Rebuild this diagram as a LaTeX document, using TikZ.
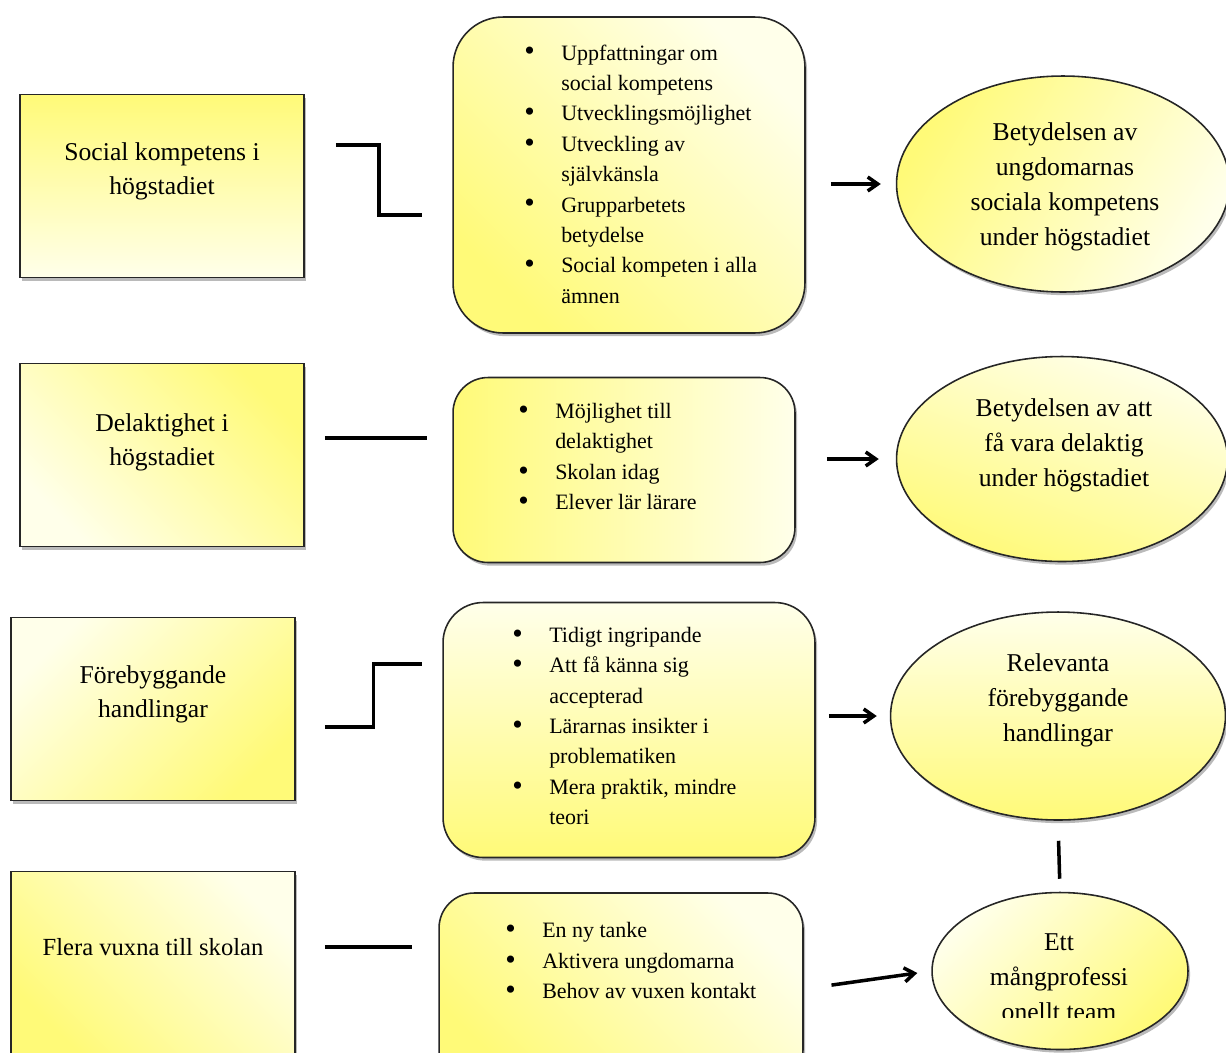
\documentclass[tikz,border=0pt]{standalone}
\usepackage{fontspec}
\setmainfont{Liberation Serif}
\usetikzlibrary{arrows.meta}
\usetikzlibrary{shapes.geometric}
\usetikzlibrary{shadows}
\usetikzlibrary{calc}
\definecolor{ylw}{RGB}{255,250,120}
\definecolor{pale}{RGB}{255,255,234}
\tikzset{
grad/.style={top color=ylw, bottom color=pale, shading angle=#1},
shad/.style={drop shadow={shadow xshift=1.2pt, shadow yshift=-1.8pt, fill=black!45, opacity=0.6}},
topic/.style={rectangle, draw=black!85, line width=0.9pt, minimum width=5.68cm, minimum height=3.66cm, shad},
themes/.style={rectangle, rounded corners=#1, draw=black!85, line width=0.9pt, shad},
result/.style={ellipse, inner sep=0pt, draw=black!85, line width=0.9pt, shad},
toptext/.style={align=center, font=\fontsize{14.6}{19.5}\selectfont},
listtext/.style={anchor=west, align=left, inner sep=0pt, font=\fontsize{12.5}{17.3}\selectfont},
restext/.style={align=center, font=\fontsize{14.6}{20}\selectfont},
link/.style={line width=2pt},
arr/.style={line width=2pt, -{Straight Barb[length=2mm, width=2.8mm]}}
}
\newcommand{\bul}{\makebox[21pt][l]{\raisebox{-0.5pt}{\fontsize{17}{17}\selectfont\textbullet}}}
\newcommand{\ind}{\hspace*{21pt}}

\begin{document}
\begin{tikzpicture}[x=0.02cm, y=-0.02cm]
\useasboundingbox (0,0) rectangle (1226,1052);

% topics
\node[topic, grad=0] (l1) at (162,186) {};
\node[topic, grad=-45] (l2) at (162,455) {};
\node[topic, grad=-135] (l3) at (153,709) {};
\node[topic, grad=135] (l4) at (153,963) {};
\node[toptext] (t1) at ($(l1)+(0,-15)$) {Social kompetens i\\högstadiet};
\node[toptext] (t2) at ($(l2)+(0,-13)$) {Delaktighet i\\högstadiet};
\node[toptext] (t3) at ($(l3)+(0,-15)$) {Förebyggande\\handlingar};
\node[toptext, font=\fontsize{14}{19}\selectfont] (t4) at ($(l4)+(0,-16)$) {Flera vuxna till skolan};

% themes
\node[themes=1cm, grad=135, minimum width=7.04cm, minimum height=6.32cm] (m1) at (629,175) {};
\node[themes=0.7cm, grad=90, minimum width=6.84cm, minimum height=3.7cm] (m2) at (624,470) {};
\node[themes=0.8cm, grad=180, minimum width=7.44cm, minimum height=5.1cm] (m3) at (629,730) {};
\node[themes=0.7cm, grad=135, minimum width=7.28cm, minimum height=3.84cm] (m4) at (621,989) {};
\node[listtext] (b1) at (524,174) {\bul Uppfattningar om\\\ind social kompetens\\\bul Utvecklingsmöjlighet\\\bul Utveckling av\\\ind självkänsla\\\bul Grupparbetets\\\ind betydelse\\\bul Social kompeten i alla\\\ind ämnen};
\node[listtext] (b2) at (518,457) {\bul Möjlighet till\\\ind delaktighet\\\bul Skolan idag\\\bul Elever lär lärare};
\node[listtext] (b3) at (512,726) {\bul Tidigt ingripande\\\bul Att få känna sig\\\ind accepterad\\\bul Lärarnas insikter i\\\ind problematiken\\\bul Mera praktik, mindre\\\ind teori};
\node[listtext] (b4) at (505,961) {\bul En ny tanke\\\bul Aktivera ungdomarna\\\bul Behov av vuxen kontakt};

% results
\node[result, grad=60, minimum width=6.66cm, minimum height=4.32cm] (e1) at (1063,184) {};
\node[result, grad=160, minimum width=6.62cm, minimum height=4.1cm] (e2) at (1062,459) {};
\node[result, grad=180, minimum width=6.7cm, minimum height=4.16cm] (e3) at (1058,716) {};
\node[result, grad=-135, minimum width=5.12cm, minimum height=3.14cm] (e4) at (1060,971) {};
\node[restext] (r1) at (1065,187) {Betydelsen av\\ungdomarnas\\sociala kompetens\\under högstadiet};
\node[restext] (r2) at (1064,445) {Betydelsen av att\\få vara delaktig\\under högstadiet};
\node[restext] (r3) at (1058,700) {Relevanta\\förebyggande\\handlingar};
\begin{scope}
  \clip (900,880) rectangle (1200,1017);
  \node[restext] (r4) at (1059,977) {Ett\\mångprofessi\\onellt team};
\end{scope}

% connectors
\coordinate (z1a) at ($(l1.east)+(31,-41)$);
\coordinate (z1b) at ($(m1.west)+(-30,40)$);
\draw[link] (z1a) -| ($(z1a)!.5!(z1b)$) |- (z1b);
\coordinate (z2a) at ($(l2.east)+(20,-17)$);
\coordinate (z2b) at ($(m2.west)+(-25,-32)$);
\draw[link] (z2a) -- (z2b);
\coordinate (z3a) at ($(l3.east)+(29,18)$);
\coordinate (z3b) at ($(m3.west)+(-20,-66)$);
\draw[link] (z3a) -| ($(z3a)!.5!(z3b)$) |- (z3b);
\coordinate (z4a) at ($(l4.east)+(29,-16)$);
\coordinate (z4b) at ($(m4.west)+(-26,-42)$);
\draw[link] (z4a) -- (z4b);

\draw[arr, shorten <=0.5cm, shorten >=0.3cm] (m1.east |- e1.west) -- (e1.west);
\draw[arr, shorten <=0.62cm, shorten >=0.34cm] (m2.east |- e2.west) -- (e2.west);
\draw[arr, shorten <=0.26cm, shorten >=0.26cm] (m3.east |- e3.west) -- (e3.west);
\draw[arr, shorten <=0.56cm, shorten >=0.28cm] (m4.east) -- (e4.west);
\draw[link, shorten <=0.4cm, shorten >=0.26cm] (e3.south) -- (e4.north);

\end{tikzpicture}
\end{document}
